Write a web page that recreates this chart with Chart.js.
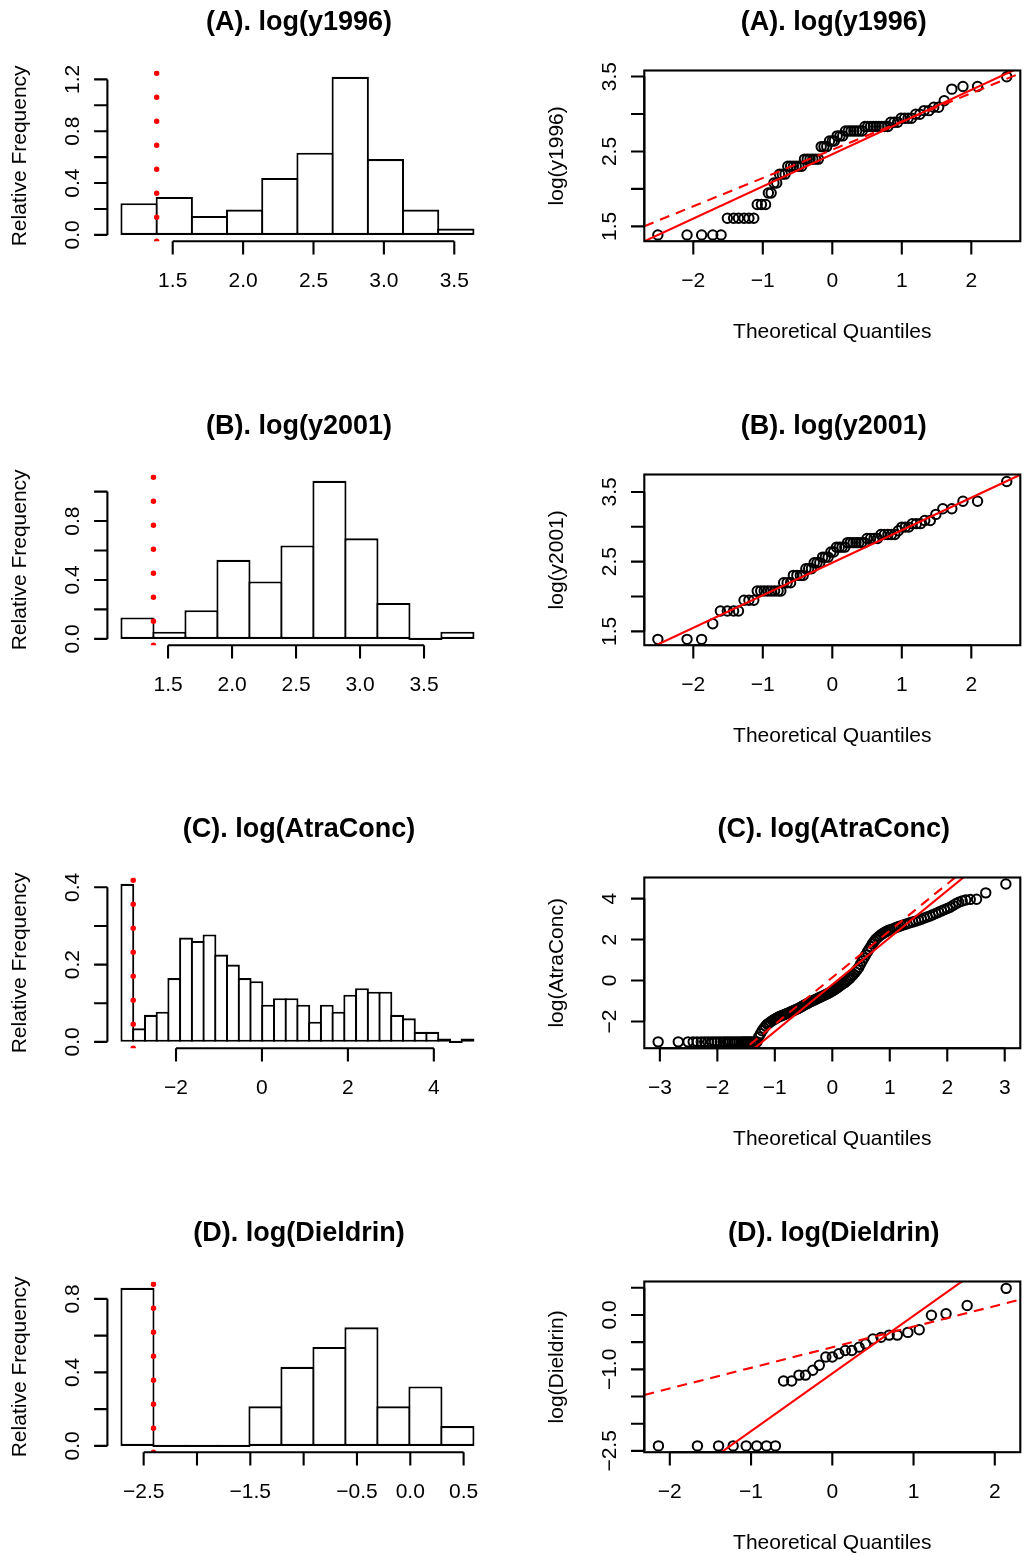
<!DOCTYPE html>
<html>
<head>
<meta charset="utf-8">
<script src="https://cdn.jsdelivr.net/npm/chart.js@4.4.1/dist/chart.umd.min.js"></script>
<style>
  html, body { margin: 0; padding: 0; background: #fff; }
  #page { position: relative; width: 1027px; height: 1555px; overflow: hidden; background: #fff; }
  #page canvas { position: absolute; }
</style>
</head>
<body>
<div id="page"></div>
<script>
// ---- data ----

// histogram (A) log(y1996)
const histABreaks = [1.136, 1.386, 1.636, 1.886, 2.136, 2.386, 2.636, 2.886, 3.136, 3.386, 3.636];
const histADensity = [0.244, 0.293, 0.146, 0.195, 0.439, 0.634, 1.220, 0.585, 0.195, 0.049];
const histACut = 1.386;
const histAXTicks = [1.5, 2.0, 2.5, 3.0, 3.5];
const histAXLabels = ["1.5", "2.0", "2.5", "3.0", "3.5"];
const histAYTicks = [0, 0.2, 0.4, 0.6, 0.8, 1.0, 1.2];
const histAYLabels = ["0.0", "", "0.4", "", "0.8", "", "1.2"];

// histogram (B) log(y2001)
const histBBreaks = [1.136, 1.386, 1.636, 1.886, 2.136, 2.386, 2.636, 2.886, 3.136, 3.386, 3.636, 3.886];
const histBDensity = [0.146, 0.049, 0.195, 0.537, 0.390, 0.634, 1.073, 0.683, 0.244, 0, 0.049];
const histBCut = 1.386;
const histBXTicks = [1.5, 2.0, 2.5, 3.0, 3.5];
const histBXLabels = ["1.5", "2.0", "2.5", "3.0", "3.5"];
const histBYTicks = [0, 0.2, 0.4, 0.6, 0.8, 1.0];
const histBYLabels = ["0.0", "", "0.4", "", "0.8", ""];

// histogram (C) log(AtraConc)
const histCBreaks = [-3.269, -2.996, -2.723, -2.450, -2.177, -1.904, -1.631, -1.358, -1.085, -0.812,
  -0.539, -0.266, 0.007, 0.280, 0.553, 0.826, 1.099, 1.372, 1.645, 1.918,
  2.191, 2.464, 2.737, 3.010, 3.283, 3.556, 3.829, 4.102, 4.375, 4.648, 4.921];
const histCDensity = [0.409, 0.035, 0.070, 0.078, 0.165, 0.270, 0.261, 0.278, 0.226, 0.200,
  0.165, 0.157, 0.096, 0.113, 0.113, 0.096, 0.052, 0.096, 0.078, 0.122,
  0.139, 0.130, 0.130, 0.070, 0.061, 0.026, 0.026, 0.009, 0, 0.009];
const histCCut = -2.996;
const histCXTicks = [-2, 0, 2, 4];
const histCXLabels = ["−2", "0", "2", "4"];
const histCYTicks = [0, 0.1, 0.2, 0.3, 0.4];
const histCYLabels = ["0.0", "", "0.2", "", "0.4"];

// histogram (D) log(Dieldrin)
const histDBreaks = [-2.708, -2.408, -2.108, -1.808, -1.508, -1.208, -0.908, -0.608, -0.308, -0.008, 0.292, 0.592];
const histDDensity = [0.860, 0, 0, 0, 0.215, 0.430, 0.538, 0.645, 0.215, 0.323, 0.108];
const histDCut = -2.408;
const histDXTicks = [-2.5, -2.0, -1.5, -1.0, -0.5, 0.0, 0.5];
const histDXLabels = ["−2.5", "", "−1.5", "", "−0.5", "0.0", "0.5"];
const histDYTicks = [0, 0.2, 0.4, 0.6, 0.8];
const histDYLabels = ["0.0", "", "0.4", "", "0.8"];

// normal QQ (A): [theoretical quantile, sample value]
const qqAPoints = [
  [-2.51, 1.386], [-2.09, 1.386], [-1.88, 1.386], [-1.72, 1.386], [-1.60, 1.386],
  [-1.51, 1.609], [-1.42, 1.609], [-1.35, 1.609], [-1.27, 1.609], [-1.20, 1.609], [-1.13, 1.609],
  [-1.08, 1.792], [-1.02, 1.792], [-0.96, 1.792],
  [-0.92, 1.946], [-0.88, 1.946],
  [-0.84, 2.079], [-0.80, 2.079],
  [-0.76, 2.197], [-0.72, 2.197], [-0.68, 2.197],
  [-0.64, 2.303], [-0.60, 2.303], [-0.56, 2.303], [-0.52, 2.303], [-0.48, 2.303], [-0.44, 2.303],
  [-0.40, 2.398], [-0.36, 2.398], [-0.32, 2.398], [-0.28, 2.398], [-0.24, 2.398], [-0.20, 2.398],
  [-0.16, 2.565], [-0.12, 2.565], [-0.08, 2.565],
  [-0.04, 2.639], [0.00, 2.639], [0.03, 2.639],
  [0.07, 2.708], [0.11, 2.708], [0.15, 2.708],
  [0.19, 2.773], [0.23, 2.773], [0.27, 2.773], [0.31, 2.773], [0.35, 2.773], [0.39, 2.773], [0.43, 2.773],
  [0.47, 2.833], [0.51, 2.833], [0.55, 2.833], [0.59, 2.833], [0.63, 2.833], [0.67, 2.833], [0.71, 2.833], [0.75, 2.833], [0.80, 2.833],
  [0.84, 2.890], [0.89, 2.890], [0.94, 2.890],
  [0.99, 2.944], [1.04, 2.944], [1.09, 2.944], [1.14, 2.944],
  [1.20, 2.996], [1.26, 2.996],
  [1.32, 3.045], [1.39, 3.045],
  [1.46, 3.091], [1.53, 3.091],
  [1.61, 3.178],
  [1.72, 3.332], [1.88, 3.367], [2.09, 3.367], [2.51, 3.497]
];
const qqALineSolid = [2.463, 0.4296];   // intercept, slope
const qqALineDashed = [2.523, 0.3775];
const qqAXTicks = [-2, -1, 0, 1, 2];
const qqAXLabels = ["−2", "−1", "0", "1", "2"];
const qqAYTicks = [1.5, 2.0, 2.5, 3.0, 3.5];
const qqAYLabels = ["1.5", "", "2.5", "", "3.5"];

// normal QQ (B)
const qqBPoints = [
  [-2.51, 1.386], [-2.09, 1.386], [-1.88, 1.386],
  [-1.72, 1.609],
  [-1.61, 1.792], [-1.51, 1.792], [-1.42, 1.792], [-1.35, 1.792],
  [-1.27, 1.946], [-1.20, 1.946], [-1.13, 1.946],
  [-1.08, 2.079], [-1.03, 2.079], [-0.98, 2.079], [-0.93, 2.079], [-0.88, 2.079], [-0.83, 2.079], [-0.78, 2.079], [-0.74, 2.079],
  [-0.70, 2.197], [-0.65, 2.197], [-0.60, 2.197],
  [-0.56, 2.303], [-0.51, 2.303], [-0.46, 2.303], [-0.42, 2.303],
  [-0.38, 2.398], [-0.34, 2.398], [-0.30, 2.398],
  [-0.26, 2.485], [-0.22, 2.485], [-0.18, 2.485],
  [-0.14, 2.565], [-0.10, 2.565], [-0.06, 2.565],
  [-0.02, 2.639], [0.02, 2.639],
  [0.06, 2.708], [0.10, 2.708], [0.14, 2.708], [0.18, 2.708],
  [0.22, 2.773], [0.26, 2.773], [0.30, 2.773], [0.34, 2.773], [0.38, 2.773], [0.42, 2.773], [0.46, 2.773],
  [0.50, 2.833], [0.55, 2.833], [0.60, 2.833], [0.65, 2.833],
  [0.70, 2.890], [0.75, 2.890], [0.80, 2.890], [0.85, 2.890], [0.90, 2.890],
  [0.95, 2.944],
  [1.00, 2.996], [1.05, 2.996], [1.10, 2.996],
  [1.15, 3.045], [1.21, 3.045], [1.27, 3.045],
  [1.33, 3.091], [1.41, 3.091],
  [1.49, 3.178], [1.59, 3.258], [1.72, 3.258], [1.88, 3.367], [2.09, 3.367], [2.51, 3.650]
];
const qqBLineSolid = [2.485, 0.4667];
const qqBXTicks = [-2, -1, 0, 1, 2];
const qqBXLabels = ["−2", "−1", "0", "1", "2"];
const qqBYTicks = [1.5, 2.0, 2.5, 3.0, 3.5];
const qqBYLabels = ["1.5", "", "2.5", "", "3.5"];

// normal QQ (C)
const qqCPoints = [
  [-3.03, -2.996], [-2.68, -2.996], [-2.51, -2.996], [-2.42, -2.996], [-2.35, -2.996], [-2.28, -2.996],
  [-2.22, -2.996], [-2.16, -2.996], [-2.10, -2.996], [-2.05, -2.996], [-2.00, -2.996], [-1.95, -2.996],
  [-1.90, -2.996], [-1.86, -2.996], [-1.82, -2.996], [-1.78, -2.996], [-1.74, -2.996], [-1.70, -2.996],
  [-1.66, -2.996], [-1.62, -2.996], [-1.58, -2.996], [-1.55, -2.996], [-1.52, -2.996], [-1.49, -2.996],
  [-1.46, -2.996], [-1.43, -2.996], [-1.40, -2.996], [-1.37, -2.996], [-1.34, -2.996], [-1.31, -2.996],
  [-1.28, -2.75], [-1.25, -2.60], [-1.22, -2.45], [-1.19, -2.33], [-1.16, -2.22], [-1.13, -2.13],
  [-1.10, -2.07], [-1.07, -2.01], [-1.04, -1.95], [-1.01, -1.90], [-0.98, -1.85], [-0.95, -1.80],
  [-0.92, -1.76], [-0.89, -1.73], [-0.86, -1.69], [-0.83, -1.66], [-0.80, -1.62], [-0.77, -1.59],
  [-0.74, -1.55], [-0.71, -1.51], [-0.68, -1.48], [-0.65, -1.44], [-0.62, -1.40], [-0.59, -1.36],
  [-0.56, -1.32], [-0.53, -1.27], [-0.50, -1.22], [-0.47, -1.17], [-0.44, -1.13], [-0.41, -1.09],
  [-0.38, -1.04], [-0.35, -1.00], [-0.32, -0.96], [-0.29, -0.92], [-0.26, -0.88], [-0.23, -0.84],
  [-0.20, -0.80], [-0.17, -0.76], [-0.14, -0.72], [-0.11, -0.68], [-0.08, -0.64], [-0.05, -0.59],
  [-0.02, -0.55], [0.01, -0.50], [0.04, -0.45], [0.07, -0.39], [0.10, -0.33], [0.13, -0.27],
  [0.16, -0.21], [0.19, -0.15], [0.22, -0.09], [0.25, -0.02], [0.28, 0.05], [0.31, 0.13],
  [0.34, 0.22], [0.37, 0.31], [0.40, 0.41], [0.43, 0.52], [0.46, 0.64], [0.49, 0.79],
  [0.52, 0.95], [0.55, 1.10], [0.58, 1.25], [0.61, 1.39], [0.64, 1.53], [0.67, 1.66],
  [0.70, 1.80], [0.73, 1.92], [0.76, 2.02], [0.79, 2.10], [0.82, 2.17], [0.85, 2.24],
  [0.88, 2.30], [0.91, 2.35], [0.94, 2.40], [0.97, 2.44], [1.00, 2.47], [1.04, 2.51],
  [1.08, 2.55], [1.12, 2.60], [1.16, 2.64], [1.20, 2.68], [1.25, 2.73], [1.30, 2.77],
  [1.35, 2.82], [1.40, 2.86], [1.45, 2.90], [1.50, 2.95], [1.55, 2.99], [1.60, 3.05],
  [1.65, 3.10], [1.70, 3.15], [1.75, 3.21], [1.80, 3.27], [1.85, 3.33], [1.90, 3.40],
  [1.95, 3.46], [2.00, 3.52], [2.05, 3.58], [2.10, 3.66], [2.15, 3.75], [2.20, 3.82],
  [2.26, 3.88], [2.32, 3.93], [2.40, 3.96], [2.51, 3.97], [2.67, 4.28], [3.02, 4.71]
];
const qqCLineSolid = [-0.198, 2.293];
const qqCLineDashed = [0.147, 2.285];
const qqCXTicks = [-3, -2, -1, 0, 1, 2, 3];
const qqCXLabels = ["−3", "−2", "−1", "0", "1", "2", "3"];
const qqCYTicks = [-2, 0, 2, 4];
const qqCYLabels = ["−2", "0", "2", "4"];

// normal QQ (D)
const qqDPoints = [
  [-2.14, -2.408], [-1.66, -2.408], [-1.40, -2.408], [-1.22, -2.408], [-1.06, -2.408], [-0.93, -2.408], [-0.81, -2.408], [-0.70, -2.408],
  [-0.60, -1.215], [-0.50, -1.215], [-0.41, -1.106], [-0.33, -1.106], [-0.24, -1.016], [-0.16, -0.925],
  [-0.08, -0.774], [0.00, -0.774], [0.08, -0.713], [0.16, -0.653], [0.24, -0.653], [0.33, -0.592],
  [0.41, -0.532], [0.50, -0.441], [0.60, -0.411], [0.70, -0.370], [0.80, -0.370], [0.93, -0.320],
  [1.07, -0.272], [1.22, -0.006], [1.40, 0.024], [1.66, 0.175], [2.14, 0.490]
];
const qqDLineSolid = [-1.076, 1.061];
const qqDLineDashed = [-0.593, 0.379];
const qqDXTicks = [-2, -1, 0, 1, 2];
const qqDXLabels = ["−2", "−1", "0", "1", "2"];
const qqDYTicks = [-2.5, -2.0, -1.5, -1.0, -0.5, 0.0, 0.5];
const qqDYLabels = ["−2.5", "", "", "−1.0", "", "0.0", ""];

// ---- drawing ----
const RED = "#ff0000";
const LW = 2.1;
const TICK = 13.3;
const FONT = "'Liberation Sans', Arial, Helvetica, sans-serif";
const ROW_TOP = [0, 404, 807, 1211];
const CELL_H = 404;
const PAD_TOP = 70.5;
const PAD_BOTTOM = CELL_H - 241.2;

// R style axes, title and labels, drawn from the chart's own scales
const rAxes = {
  id: "rAxes",
  afterDatasetsDraw(chart) {
    const o = chart.canvas._r;
    const ctx = chart.ctx;
    const a = chart.chartArea;
    const xs = chart.scales.x;
    const ys = chart.scales.y;
    ctx.save();
    ctx.strokeStyle = "#000";
    ctx.fillStyle = "#000";
    ctx.lineWidth = LW;
    ctx.lineCap = "butt";

    if (o.box) ctx.strokeRect(a.left, a.top, a.right - a.left, a.bottom - a.top);

    const xp = xs.ticks.map((t) => xs.getPixelForValue(t.value));
    const yp = ys.ticks.map((t) => ys.getPixelForValue(t.value));
    ctx.beginPath();
    ctx.moveTo(xp[0], a.bottom);
    ctx.lineTo(xp[xp.length - 1], a.bottom);
    xp.forEach((p) => { ctx.moveTo(p, a.bottom); ctx.lineTo(p, a.bottom + TICK); });
    ctx.moveTo(a.left, yp[0]);
    ctx.lineTo(a.left, yp[yp.length - 1]);
    yp.forEach((p) => { ctx.moveTo(a.left, p); ctx.lineTo(a.left - TICK, p); });
    ctx.stroke();

    ctx.font = "21px " + FONT;
    ctx.textAlign = "center";
    ctx.textBaseline = "alphabetic";
    xp.forEach((p, i) => ctx.fillText(o.xLabels[i], p, a.bottom + 45.5));
    yp.forEach((p, i) => {
      ctx.save();
      ctx.translate(a.left - 28, p);
      ctx.rotate(-Math.PI / 2);
      ctx.fillText(o.yLabels[i], 0, 0);
      ctx.restore();
    });

    if (o.xTitle) ctx.fillText(o.xTitle, (a.left + a.right) / 2, a.bottom + 96.3);
    ctx.save();
    ctx.translate(a.left - 81, (a.top + a.bottom) / 2);
    ctx.rotate(-Math.PI / 2);
    ctx.fillText(o.yTitle, 0, 0);
    ctx.restore();

    ctx.font = "bold 27px " + FONT;
    ctx.fillText(o.title, (a.left + a.right) / 2 + 1.5, a.top - 41);
    ctx.restore();
  }
};

function addCanvas(left, top, w, h) {
  const c = document.createElement("canvas");
  c.width = w;
  c.height = h;
  c.style.left = left + "px";
  c.style.top = top + "px";
  document.getElementById("page").appendChild(c);
  return c;
}

function fixedScale(lim, ticks) {
  return {
    type: "linear",
    display: false,
    offset: false,
    min: lim[0],
    max: lim[1],
    afterBuildTicks: function (s) {
      s.ticks = ticks.map((v) => ({ value: v }));
    }
  };
}

const baseOptions = {
  responsive: false,
  animation: false,
  devicePixelRatio: 1,
  events: [],
  plugins: { legend: { display: false }, tooltip: { enabled: false } }
};

function makeHist(row, o) {
  const padL = 107.4, padR = 25.5, w = 513;
  const areaW = w - padL - padR;
  const binW = o.breaks[1] - o.breaks[0];
  const barPx = areaW * binW / (o.xlim[1] - o.xlim[0]) + LW;
  const bars = o.density.map((d, i) => ({ x: (o.breaks[i] + o.breaks[i + 1]) / 2, y: d }));
  const canvas = addCanvas(0, ROW_TOP[row], w, CELL_H);
  canvas._r = { title: o.title, yTitle: "Relative Frequency", xLabels: o.xLabels, yLabels: o.yLabels, box: false };
  new Chart(canvas, {
    type: "bar",
    data: {
      datasets: [
        {
          type: "line",
          data: [{ x: o.cut, y: o.ylim[0] }, { x: o.cut, y: o.ylim[1] }],
          borderColor: RED,
          borderWidth: 5.5,
          borderDash: [0.001, 24],
          borderCapStyle: "round",
          pointRadius: 0,
          clip: 0,
          order: 1
        },
        {
          data: bars,
          backgroundColor: "#fff",
          borderColor: "#000",
          borderWidth: LW,
          borderSkipped: false,
          barThickness: barPx,
          minBarLength: LW,
          inflateAmount: 0,
          order: 2
        }
      ]
    },
    options: Object.assign({}, baseOptions, {
      layout: { padding: { left: padL, right: padR, top: PAD_TOP, bottom: PAD_BOTTOM } },
      scales: { x: fixedScale(o.xlim, o.xTicks), y: fixedScale(o.ylim, o.yTicks) }
    }),
    plugins: [rAxes]
  });
}

function makeQQ(row, o) {
  const padL = 131.3, padR = 3, w = 514;
  const ends = (ab) => [
    { x: o.xlim[0], y: ab[0] + ab[1] * o.xlim[0] },
    { x: o.xlim[1], y: ab[0] + ab[1] * o.xlim[1] }
  ];
  const datasets = [
    { type: "line", data: ends(o.solid), borderColor: RED, borderWidth: LW, pointRadius: 0, showLine: true, clip: 0, order: 1 }
  ];
  if (o.dashed) {
    datasets.push({ type: "line", data: ends(o.dashed), borderColor: RED, borderWidth: LW, borderDash: [10, 7], pointRadius: 0, showLine: true, clip: 0, order: 1 });
  }
  datasets.push({
    type: "scatter",
    data: o.points.map((p) => ({ x: p[0], y: p[1] })),
    pointStyle: "circle",
    pointRadius: 4.7,
    pointBorderWidth: 2,
    pointBorderColor: "#000",
    pointBackgroundColor: "rgba(0,0,0,0)",
    showLine: false,
    order: 3
  });
  const canvas = addCanvas(513, ROW_TOP[row], w, CELL_H);
  canvas._r = { title: o.title, yTitle: o.yTitle, xTitle: "Theoretical Quantiles", xLabels: o.xLabels, yLabels: o.yLabels, box: true };
  new Chart(canvas, {
    type: "scatter",
    data: { datasets: datasets },
    options: Object.assign({}, baseOptions, {
      layout: { padding: { left: padL, right: padR, top: PAD_TOP, bottom: PAD_BOTTOM } },
      scales: { x: fixedScale(o.xlim, o.xTicks), y: fixedScale(o.ylim, o.yTicks) }
    }),
    plugins: [rAxes]
  });
}

makeHist(0, { title: "(A). log(y1996)", breaks: histABreaks, density: histADensity, cut: histACut,
  xlim: [1.036, 3.736], ylim: [-0.0488, 1.2688],
  xTicks: histAXTicks, xLabels: histAXLabels, yTicks: histAYTicks, yLabels: histAYLabels });
makeHist(1, { title: "(B). log(y2001)", breaks: histBBreaks, density: histBDensity, cut: histBCut,
  xlim: [1.026, 3.996], ylim: [-0.0429, 1.116],
  xTicks: histBXTicks, xLabels: histBXLabels, yTicks: histBYTicks, yLabels: histBYLabels });
makeHist(2, { title: "(C). log(AtraConc)", breaks: histCBreaks, density: histCDensity, cut: histCCut,
  xlim: [-3.597, 5.249], ylim: [-0.0164, 0.4254],
  xTicks: histCXTicks, xLabels: histCXLabels, yTicks: histCYTicks, yLabels: histCYLabels });
makeHist(3, { title: "(D). log(Dieldrin)", breaks: histDBreaks, density: histDDensity, cut: histDCut,
  xlim: [-2.84, 0.724], ylim: [-0.0344, 0.8944],
  xTicks: histDXTicks, xLabels: histDXLabels, yTicks: histDYTicks, yLabels: histDYLabels });

makeQQ(0, { title: "(A). log(y1996)", yTitle: "log(y1996)", points: qqAPoints,
  solid: qqALineSolid, dashed: qqALineDashed, xlim: [-2.705, 2.705], ylim: [1.302, 3.581],
  xTicks: qqAXTicks, xLabels: qqAXLabels, yTicks: qqAYTicks, yLabels: qqAYLabels });
makeQQ(1, { title: "(B). log(y2001)", yTitle: "log(y2001)", points: qqBPoints,
  solid: qqBLineSolid, xlim: [-2.705, 2.705], ylim: [1.302, 3.75],
  xTicks: qqBXTicks, xLabels: qqBXLabels, yTicks: qqBYTicks, yLabels: qqBYLabels });
makeQQ(2, { title: "(C). log(AtraConc)", yTitle: "log(AtraConc)", points: qqCPoints,
  solid: qqCLineSolid, dashed: qqCLineDashed, xlim: [-3.271, 3.271], ylim: [-3.305, 5.03],
  xTicks: qqCXTicks, xLabels: qqCXLabels, yTicks: qqCYTicks, yLabels: qqCYLabels });
makeQQ(3, { title: "(D). log(Dieldrin)", yTitle: "log(Dieldrin)", points: qqDPoints,
  solid: qqDLineSolid, dashed: qqDLineDashed, xlim: [-2.314, 2.314], ylim: [-2.524, 0.616],
  xTicks: qqDXTicks, xLabels: qqDXLabels, yTicks: qqDYTicks, yLabels: qqDYLabels });
</script>
</body>
</html>
